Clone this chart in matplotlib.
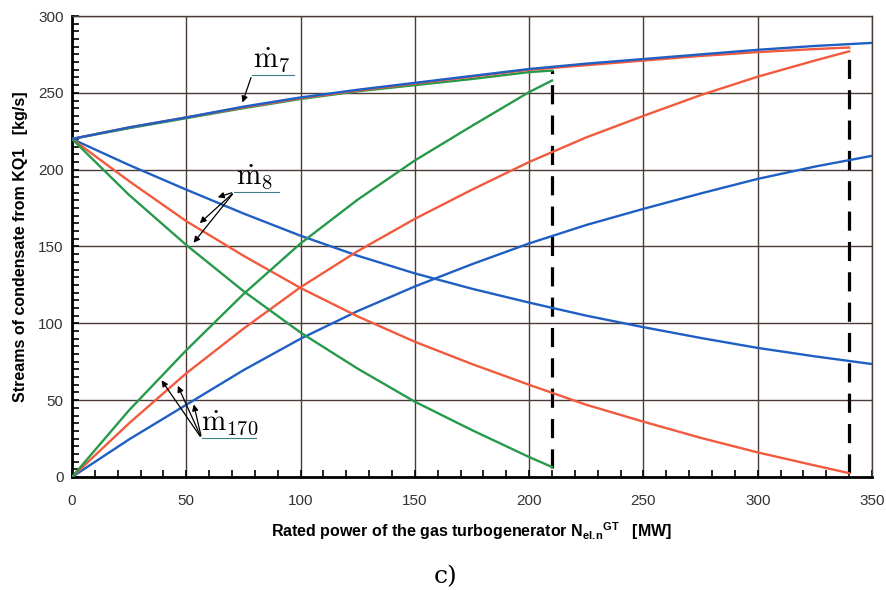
import matplotlib
matplotlib.use("Agg")
import matplotlib.pyplot as plt
from matplotlib.ticker import MultipleLocator

plt.rcParams['font.family'] = ['Liberation Sans', 'DejaVu Sans']
plt.rcParams['mathtext.fontset'] = 'custom'
plt.rcParams['mathtext.rm'] = 'Liberation Sans'
plt.rcParams['mathtext.bf'] = 'Liberation Sans:bold'
plt.rcParams['mathtext.it'] = 'Liberation Sans:italic'

# values (rated power in MW -> streams in kg/s)
x_blue = [0, 25, 50, 75, 100, 125, 150, 175, 200, 225, 250, 275, 300, 325, 350]
m7_blue = [220, 227.5, 234, 241, 247, 252, 256.5, 261, 265.5, 269, 272, 275, 278, 280.5, 282.5]
m8_blue = [220, 203, 187, 171.5, 157, 144, 132.5, 122.5, 113.5, 105, 97.5, 90.5, 84, 78.5, 73.5]
m170_blue = [0, 24.5, 47, 69.5, 90, 108, 124, 138.5, 152, 164, 174.5, 184.5, 194, 202, 209]

x_red = [0, 25, 50, 75, 100, 125, 150, 175, 200, 225, 250, 275, 300, 325, 340]
m7_red = [220, 227.5, 234, 240.5, 246.5, 251.5, 256, 260.5, 265, 268, 271, 274, 276.5, 278.5, 279.5]
m8_red = [220, 192.5, 166.5, 144, 123, 104.5, 88, 73.5, 60, 47, 36, 25.5, 16, 7.5, 2.5]
m170_red = [0, 35, 67.5, 96.5, 123.5, 147, 168, 187, 205, 221, 235, 248.5, 260.5, 271, 277]

x_green = [0, 25, 50, 75, 100, 125, 150, 175, 200, 210]
m7_green = [220, 227, 233.5, 240, 246, 251, 255, 259, 263.5, 264.5]
m8_green = [220, 183.5, 151, 121, 94, 70.5, 49, 30.5, 13, 6.5]
m170_green = [0, 43.5, 82.5, 119, 152, 180.5, 206, 228.5, 250.5, 258]

# dashed limits
limit_x = [210, 340]
limit_lo = [6, 2.5]
limit_hi = [265, 279.5]

c_blue = '#1f5fc4'
c_red = '#f25a3e'
c_green = '#279a4a'
grid_c = '#4a3a36'

fig = plt.figure(figsize=(8.86, 5.90), dpi=100)
ax = fig.add_axes([72 / 886, 1 - 477 / 590, 800 / 886, 461 / 590])

for xs, lo, hi in zip(limit_x, limit_lo, limit_hi):
    ax.plot([xs, xs], [lo, hi], color='black', lw=2.3, dashes=(6, 3.5), zorder=3)

for xs, ys, c in [(x_blue, m8_blue, c_blue), (x_blue, m170_blue, c_blue),
                  (x_red, m8_red, c_red), (x_red, m170_red, c_red),
                  (x_green, m8_green, c_green), (x_green, m170_green, c_green),
                  (x_green, m7_green, c_green), (x_red, m7_red, c_red),
                  (x_blue, m7_blue, c_blue)]:
    ax.plot(xs, ys, color=c, lw=1.7, zorder=4)

ax.set_xlim(0, 350)
ax.set_ylim(0, 300)
ax.xaxis.set_major_locator(MultipleLocator(50))
ax.yaxis.set_major_locator(MultipleLocator(50))
ax.xaxis.set_minor_locator(MultipleLocator(10))
ax.yaxis.set_minor_locator(MultipleLocator(5))
ax.grid(True, which='major', color=grid_c, lw=1.0)
ax.tick_params(which='both', direction='in', color='black', width=1.2,
               labelsize=11, labelcolor='#333333')
ax.tick_params(which='major', length=5)
ax.tick_params(which='minor', length=5)
ax.tick_params(axis='x', pad=12)
ax.tick_params(axis='y', pad=6)
for s in ['left', 'bottom']:
    ax.spines[s].set_linewidth(2)
    ax.spines[s].set_color('black')
for s in ['top', 'right']:
    ax.spines[s].set_linewidth(1.0)
    ax.spines[s].set_color(grid_c)

ax.set_xlabel(r'Rated power of the gas turbogenerator N$_{\mathbf{el.\!n}}$$^{\mathbf{GT}}$   [MW]',
              fontsize=11.5, fontweight='bold', labelpad=9)
ax.set_ylabel('Streams of condensate from KQ1   [kg/s]', fontsize=11.5,
              fontweight='bold', labelpad=7)

# curve labels
lab_kw = dict(fontsize=21, math_fontfamily='cm', color='black', zorder=6)
arr_kw = dict(arrowstyle='-|>', color='black', lw=0.9, mutation_scale=9)
line_c = '#3d7f8a'

ax.text(87.5, 262.5, r'$\dot{\mathrm{m}}_7$', ha='center', va='bottom', **lab_kw)
ax.plot([78.7, 97], [261.6, 261.6], color=line_c, lw=0.8, zorder=5)
ax.annotate('', xy=(74.2, 242), xytext=(78.7, 261.6), arrowprops=arr_kw, zorder=6)

ax.text(80, 186, r'$\dot{\mathrm{m}}_8$', ha='center', va='bottom', **lab_kw)
ax.plot([71, 90.5], [185.5, 185.5], color=line_c, lw=0.8, zorder=5)
for tx, ty in [(62.6, 181.5), (55, 164), (52.4, 151)]:
    ax.annotate('', xy=(tx, ty), xytext=(71, 185.5), arrowprops=arr_kw, zorder=6)

ax.text(69, 26, r'$\dot{\mathrm{m}}_{170}$', ha='center', va='bottom', **lab_kw)
ax.plot([56.7, 80.5], [25.1, 25.1], color=line_c, lw=0.8, zorder=5)
for tx, ty in [(38.5, 64.4), (45.8, 61), (53, 49)]:
    ax.annotate('', xy=(tx, ty), xytext=(56.7, 25.1), arrowprops=arr_kw, zorder=6)

fig.text(446 / 886, 1 - 577 / 590, 'c)', ha='center', va='center', fontsize=18,
         family='DejaVu Serif')

fig.savefig('out.png', dpi=100)
